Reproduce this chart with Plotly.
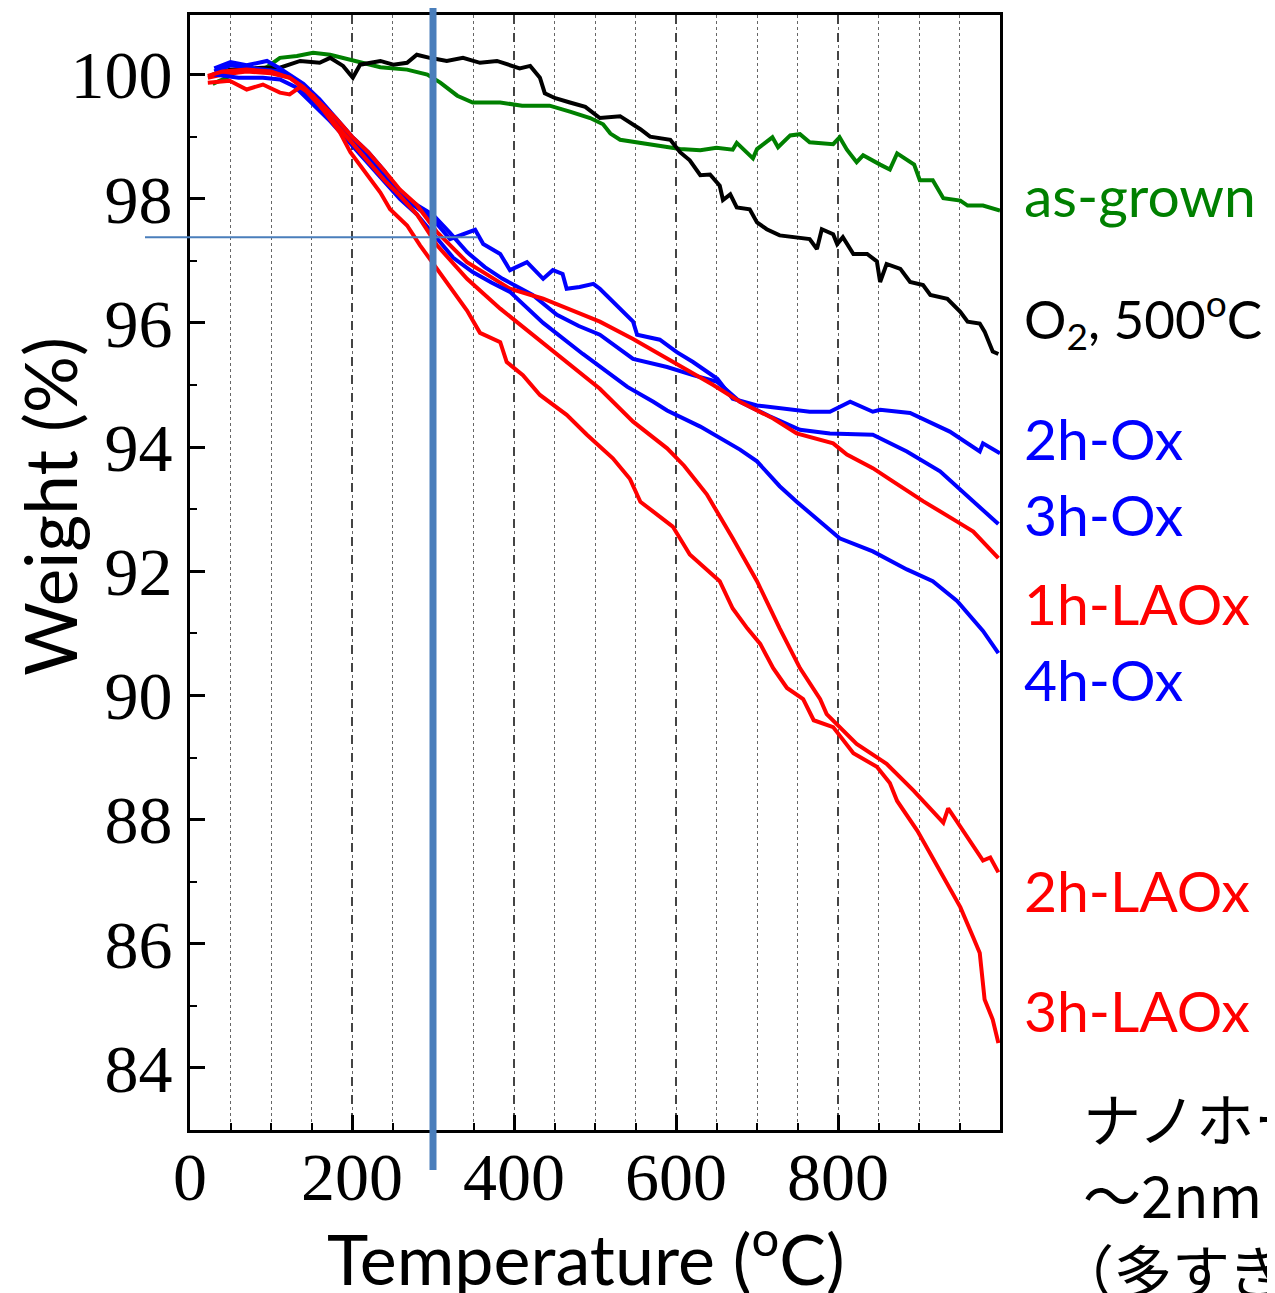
import plotly.graph_objects as go

# ---------------- data ----------------
asgrown_T = [28, 45, 62, 80, 95, 111, 132, 152, 173, 194, 210, 235, 268, 293, 309, 330, 349, 370, 383, 410,
             444, 470, 494, 510, 519, 531, 556, 580, 605, 630, 650, 670, 675, 695, 700, 719, 726, 741, 753, 765,
             794, 802, 811, 823, 831, 852, 864, 873, 894, 901, 917, 930, 951, 960, 979, 1000]
asgrown_W = [99.85, 99.95, 100.08, 100.05, 100.12, 100.27, 100.3, 100.35, 100.32, 100.25, 100.2, 100.12, 100.08, 100.0, 99.87, 99.66, 99.55, 99.55, 99.55, 99.5,
             99.5, 99.4, 99.3, 99.2, 99.05, 98.95, 98.9, 98.85, 98.8, 98.78, 98.82, 98.79, 98.9, 98.65, 98.8, 98.99, 98.83, 99.02, 99.04, 98.91,
             98.88, 98.99, 98.79, 98.59, 98.7, 98.55, 98.47, 98.73, 98.55, 98.3, 98.3, 98.01, 97.97, 97.89, 97.89, 97.81]

o2_T = [28, 49, 90, 111, 136, 160, 173, 189, 201, 210, 235, 251, 268, 280, 296, 317, 337, 358, 379, 407,
        420, 432, 438, 451, 469, 488, 506, 531, 556, 568, 593, 605, 617, 630, 642, 654, 658, 667, 675, 691,
        700, 712, 728, 753, 765, 774, 780, 794, 799, 806, 819, 836, 848, 852, 860, 877, 889, 905, 914, 935,
        951, 960, 975, 981, 991, 998]
o2_W = [100.0, 100.08, 100.11, 100.11, 100.22, 100.19, 100.27, 100.14, 99.95, 100.16, 100.22, 100.16, 100.19, 100.32, 100.27, 100.22, 100.27, 100.19, 100.22, 100.1,
        100.14, 99.95, 99.7, 99.62, 99.55, 99.48, 99.3, 99.33, 99.12, 99.0, 98.95, 98.75, 98.62, 98.38, 98.39, 98.21, 97.98, 98.07, 97.86, 97.83,
        97.62, 97.51, 97.41, 97.38, 97.35, 97.19, 97.51, 97.43, 97.27, 97.38, 97.11, 97.11, 96.99, 96.66, 96.95, 96.87, 96.66, 96.61, 96.45, 96.39,
        96.18, 96.02, 95.99, 95.86, 95.54, 95.5]

ox2_T = [30, 50, 70, 95, 111, 123, 140, 160, 180, 200, 220, 240, 259, 280, 300, 321, 342, 352, 362, 383,
         395, 416, 436, 448, 460, 465, 481, 498, 506, 522, 547, 552, 580, 601, 621, 651, 670, 700, 737, 765,
         790, 815, 843, 852, 889, 938, 975, 979, 1000]
ox2_W = [100.1, 100.2, 100.15, 100.22, 100.1, 100.0, 99.85, 99.6, 99.3, 99.0, 98.75, 98.45, 98.05, 97.85, 97.67, 97.35, 97.46, 97.5, 97.27, 97.11,
         96.85, 96.98, 96.71, 96.85, 96.79, 96.55, 96.58, 96.63, 96.55, 96.34, 96.02, 95.81, 95.73, 95.53, 95.37, 95.1, 94.78, 94.67, 94.62, 94.57,
         94.57, 94.73, 94.57, 94.6, 94.55, 94.25, 93.93, 94.06, 93.9]

ox3_T = [30, 50, 80, 111, 130, 150, 173, 194, 215, 235, 259, 280, 300, 321, 342, 364, 386, 423, 453, 480,
         506, 547, 589, 621, 651, 679, 715, 753, 790, 843, 885, 926, 967, 998]
ox3_W = [100.05, 100.15, 100.1, 100.05, 99.9, 99.6, 99.3, 99.05, 98.75, 98.45, 98.1, 97.9, 97.74, 97.45, 97.14, 96.9, 96.71, 96.45, 96.13, 95.95,
         95.81, 95.42, 95.29, 95.16, 95.05, 94.73, 94.5, 94.28, 94.22, 94.2, 93.93, 93.61, 93.13, 92.76]

ox4_T = [30, 60, 90, 111, 130, 150, 173, 194, 215, 235, 259, 280, 305, 325, 349, 372, 395, 436, 485, 540,
         572, 589, 630, 654, 679, 700, 728, 749, 781, 802, 843, 885, 917, 947, 979, 998]
ox4_W = [100.0, 99.95, 99.95, 99.92, 99.8, 99.55, 99.25, 98.95, 98.65, 98.35, 98.0, 97.75, 97.35, 97.05, 96.82, 96.65, 96.5, 96.0, 95.5, 94.97,
         94.73, 94.59, 94.33, 94.14, 93.96, 93.77, 93.37, 93.12, 92.77, 92.53, 92.32, 92.03, 91.84, 91.52, 91.04, 90.68]

laox1_T = [22, 40, 70, 100, 123, 140, 160, 180, 200, 220, 240, 259, 280, 305, 342, 395, 436, 465, 506, 547,
           601, 646, 679, 720, 749, 794, 811, 843, 864, 905, 947, 967, 998]
laox1_W = [99.95, 100.0, 100.05, 100.02, 99.95, 99.8, 99.55, 99.3, 99.0, 98.75, 98.45, 98.15, 97.9, 97.46, 96.98, 96.55, 96.39, 96.23, 96.02, 95.74,
           95.33, 95.0, 94.73, 94.46, 94.22, 94.06, 93.88, 93.66, 93.48, 93.13, 92.8, 92.64, 92.21]

laox2_T = [22, 40, 70, 100, 123, 140, 160, 180, 200, 220, 240, 259, 280, 305, 342, 383, 423, 465, 506, 547,
           589, 610, 638, 670, 700, 728, 753, 778, 786, 823, 860, 893, 917, 930, 936, 954, 979, 988, 998]
laox2_W = [99.98, 100.05, 100.08, 100.05, 99.95, 99.78, 99.5, 99.2, 98.9, 98.62, 98.3, 98.05, 97.75, 97.25, 96.71, 96.23, 95.81, 95.37, 94.94, 94.41,
           93.98, 93.7, 93.24, 92.53, 91.84, 91.08, 90.44, 89.94, 89.7, 89.22, 88.9, 88.47, 88.14, 87.95, 88.18, 87.82, 87.34, 87.39, 87.15]

laox3_T = [22, 49, 70, 90, 111, 123, 136, 152, 173, 185, 198, 210, 226, 235, 247, 259, 268, 284, 305, 342,
           358, 383, 391, 411, 432, 465, 490, 522, 543, 556, 596, 617, 654, 670, 688, 704, 720, 737, 757, 770,
           794, 819, 848, 864, 873, 898, 914, 935, 951, 967, 975, 981, 991, 998]
laox3_W = [99.87, 99.9, 99.76, 99.84, 99.71, 99.68, 99.8, 99.66, 99.28, 99.07, 98.75, 98.54, 98.27, 98.1, 97.83, 97.67, 97.57, 97.25, 96.87, 96.2,
           95.84, 95.69, 95.37, 95.16, 94.84, 94.52, 94.2, 93.82, 93.49, 93.12, 92.72, 92.27, 91.84, 91.4, 91.08, 90.83, 90.44, 90.12, 89.94, 89.6,
           89.49, 89.07, 88.85, 88.59, 88.3, 87.82, 87.45, 86.97, 86.59, 86.1, 85.85, 85.1, 84.78, 84.4]

series_names = ["as-grown", "O<sub>2</sub>, 500<sup>o</sup>C", "2h-Ox", "3h-Ox", "1h-LAOx", "4h-Ox", "2h-LAOx", "3h-LAOx"]
series_T = [asgrown_T, o2_T, ox2_T, ox3_T, laox1_T, ox4_T, laox2_T, laox3_T]
series_W = [asgrown_W, o2_W, ox2_W, ox3_W, laox1_W, ox4_W, laox2_W, laox3_W]
series_colors = ["#008000", "#000000", "#0000FF", "#0000FF", "#FF0000", "#0000FF", "#FF0000", "#FF0000"]
label_W = [98.06, 96.06, 94.15, 92.93, 91.49, 90.27, 86.86, 84.93]   # label heights in weight units
label_size = [57, 53, 57, 57, 57, 57, 57, 57]

x_tickvals = [0, 200, 400, 600, 800]
y_tickvals = [84, 86, 88, 90, 92, 94, 96, 98, 100]
XMIN, XMAX = 0, 1000
YMIN, YMAX = 83.0, 100.96
VLINE_T = 300        # blue marker line temperature
HLINE_W = 97.38      # blue marker line weight

x_title = "Temperature (<sup>o</sup>C)"
y_title = "Weight (%)"
note_lines = ["ナノホーン", "～2nm", "（多すぎ"]

# ---------------- figure ----------------
fig = go.Figure()
for T, W, c in zip(series_T, series_W, series_colors):
    fig.add_trace(go.Scatter(x=T, y=W, mode="lines", line=dict(color=c, width=4),
                             showlegend=False, hoverinfo="skip"))

# page body has an 8px margin: shrink the figure so it fills the window
W_, H_ = 1267, 1285
ml, mr, mt, mb = 182, 275, 4, 163
pw = W_ - ml - mr      # 810
ph = H_ - mt - mb      # 1118

def xp(t):
    return (t - XMIN) / (XMAX - XMIN)

def yp(w):
    return (w - YMIN) / (YMAX - YMIN)

def py2paper(py):      # reference pixel row -> paper y (plot spans rows 12..1130)
    return (1130 - py) / ph

def px2paper(px):      # reference pixel column -> paper x (plot spans cols 190..1000)
    return (px - 190) / pw

# marker lines
fig.add_shape(type="line", xref="paper", yref="paper",
              x0=xp(VLINE_T), x1=xp(VLINE_T), y0=py2paper(1170), y1=py2paper(0),
              line=dict(color="#4A7EBB", width=7), layer="above")
fig.add_shape(type="line", xref="paper", yref="paper",
              x0=px2paper(145), x1=xp(355), y0=yp(HLINE_W), y1=yp(HLINE_W),
              line=dict(color="#4A7EBB", width=2), layer="above")

# curve labels
for name, c, yl, sz in zip(series_names, series_colors, label_W, label_size):
    fig.add_annotation(x=px2paper(1022), y=yl, xref="paper", yref="y", text=name, showarrow=False,
                       xanchor="left", yanchor="middle", font=dict(family="Lato", size=sz, color=c))

# axis titles
fig.add_annotation(x=px2paper(586), y=py2paper(1254), xref="paper", yref="paper", text=x_title,
                   showarrow=False, xanchor="center", yanchor="middle",
                   font=dict(family="Lato", size=70, color="black"))
fig.add_annotation(x=px2paper(50), y=py2paper(505), xref="paper", yref="paper", text=y_title,
                   showarrow=False, xanchor="center", yanchor="middle", textangle=-90,
                   font=dict(family="Lato", size=71, color="black"))

# Japanese note (cut at image edge)
note_x = [1081, 1081, 1054]
for i, t in enumerate(note_lines):
    fig.add_annotation(x=px2paper(note_x[i]), y=py2paper(1117 + 76 * i), xref="paper", yref="paper",
                       text=t, showarrow=False, xanchor="left", yanchor="middle",
                       font=dict(family="Noto Sans CJK JP", size=58, color="black"))

fig.update_layout(
    width=W_, height=H_, autosize=False,
    margin=dict(l=ml, r=mr, t=mt, b=mb, pad=0),
    paper_bgcolor="white", plot_bgcolor="white",
    showlegend=False,
)
fig.update_xaxes(
    range=[XMIN, XMAX], tickvals=x_tickvals, ticktext=[str(v) for v in x_tickvals],
    ticks="inside", ticklen=15, tickwidth=2.5, tickcolor="black",
    showline=True, linewidth=3, linecolor="black", mirror=True,
    showgrid=True, gridcolor="#444444", gridwidth=1.5, griddash="dash",
    minor=dict(dtick=50, tick0=0, ticks="inside", ticklen=7, tickwidth=2, tickcolor="black",
               showgrid=True, gridcolor="#666666", gridwidth=1, griddash="dot"),
    tickfont=dict(family="Liberation Serif", size=68, color="black"),
    ticklabelstandoff=-15,
    zeroline=False,
)
fig.update_yaxes(
    range=[YMIN, YMAX], tickvals=y_tickvals, ticktext=[str(v) for v in y_tickvals],
    ticks="inside", ticklen=15, tickwidth=2.5, tickcolor="black",
    showline=True, linewidth=3, linecolor="black", mirror=True,
    showgrid=False,
    minor=dict(dtick=1, tick0=0, ticks="inside", ticklen=7, tickwidth=2, tickcolor="black", showgrid=False),
    tickfont=dict(family="Liberation Serif", size=68, color="black"),
    ticklabelstandoff=1,
    zeroline=False,
)

fig.write_html("out.html")
